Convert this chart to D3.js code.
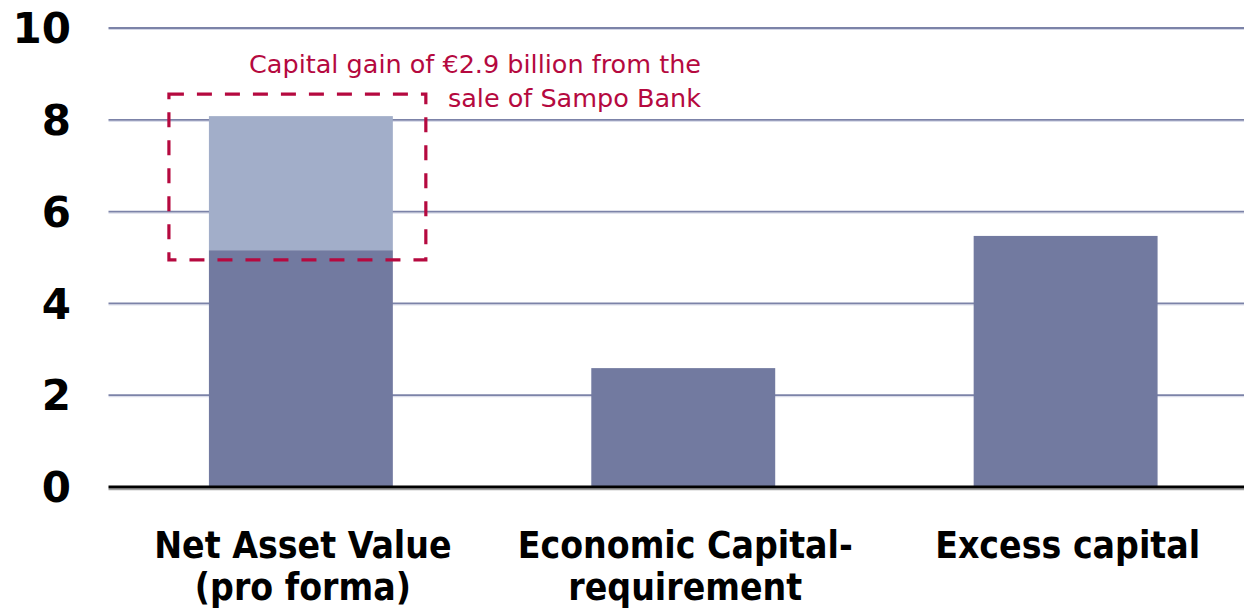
<!DOCTYPE html>
<html>
<head>
<meta charset="utf-8">
<script src="https://cdn.jsdelivr.net/npm/d3@7"></script>
<style>
  html, body { margin: 0; padding: 0; background: #fff; }
  svg { display: block; }
</style>
</head>
<body>
<svg id="chart" width="1244" height="611"></svg>
<script>
// data
const categories = ['Net Asset Value (pro forma)', 'Economic Capital-requirement', 'Excess capital']
const categoryLines = [['Net Asset Value', '(pro forma)'], ['Economic Capital-', 'requirement'], ['Excess capital']]
const baseValues = [5.16, 2.59, 5.47]   // dark part
const gainValues = [2.92, 0, 0]         // capital gain from Sampo Bank sale (light part)
const yTicks = [0, 2, 4, 6, 8, 10]
const noteLines = ['Capital gain of €2.9 billion from the', 'sale of Sampo Bank']
const noteBox = [4.95, 8.56]            // y range of the dashed box, in chart units

const svg = d3.select('#chart')
const W = 1244, H = 611
const plotLeft = 109.5, plotTop = 28, plotBottom = 487

let y = d3.scaleLinear().domain([0, 10]).range([plotBottom, plotTop])
let x = d3.scaleBand().domain(categories)
    .range([plotLeft, plotLeft + 382.5 * 3])
    .paddingInner(0.519)
    .paddingOuter(0.26)

const darkColor = '#727aa0',
    lightColor = '#a2aec9',
    gridColor = '#7c83a8',
    noteColor = '#b5093f'

// gridlines (with light shadow line underneath)
yTicks.filter(d => d > 0).forEach(function (t) {
    svg.append('line')
        .attr('x1', plotLeft - 1).attr('x2', W)
        .attr('y1', y(t) + 1.5).attr('y2', y(t) + 1.5)
        .attr('stroke', '#d3d6e6').attr('stroke-width', 1)
    svg.append('line')
        .attr('x1', plotLeft - 1).attr('x2', W)
        .attr('y1', y(t)).attr('y2', y(t))
        .attr('stroke', gridColor).attr('stroke-width', 1.8)
})

// bars
svg.selectAll('.base').data(categories).enter().append('rect')
    .attr('class', 'base')
    .attr('x', d => x(d))
    .attr('width', x.bandwidth())
    .attr('y', (d, i) => y(baseValues[i]))
    .attr('height', (d, i) => y(0) - y(baseValues[i]))
    .attr('fill', darkColor)

svg.selectAll('.gain').data(categories.filter((d, i) => gainValues[i] > 0)).enter().append('rect')
    .attr('class', 'gain')
    .attr('x', d => x(d))
    .attr('width', x.bandwidth())
    .attr('y', d => { let i = categories.indexOf(d); return y(baseValues[i] + gainValues[i]) })
    .attr('height', d => { let i = categories.indexOf(d); return y(baseValues[i]) - y(baseValues[i] + gainValues[i]) })
    .attr('fill', lightColor)

// zero axis line
svg.append('line')
    .attr('x1', plotLeft - 1).attr('x2', W)
    .attr('y1', y(0) + 2.5).attr('y2', y(0) + 2.5)
    .attr('stroke', '#a0a0a0').attr('stroke-width', 1.5)
svg.append('line')
    .attr('x1', plotLeft - 1).attr('x2', W)
    .attr('y1', y(0)).attr('y2', y(0))
    .attr('stroke', '#000').attr('stroke-width', 3.2)

// y tick labels
svg.selectAll('.ytick').data(yTicks).enter().append('text')
    .attr('class', 'ytick')
    .attr('x', 71)
    .attr('y', d => y(d))
    .attr('dy', '0.36em')
    .attr('text-anchor', 'end')
    .style('font-family', '"DejaVu Sans", sans-serif')
    .style('font-weight', 'bold')
    .style('font-size', '42px')
    .text(d => d)

// category labels
categories.forEach(function (c, i) {
    let t = svg.append('text')
        .attr('text-anchor', 'middle')
        .style('font-family', '"DejaVu Sans Condensed", "DejaVu Sans", sans-serif')
        .style('font-weight', 'bold')
        .style('font-size', '37px')
    categoryLines[i].forEach(function (line, j) {
        t.append('tspan')
            .attr('x', x(c) + x.bandwidth() / 2 + 2)
            .attr('y', 558 + j * 42)
            .text(line)
    })
})

// dashed annotation box around the capital gain
let c0 = categories[0]
svg.append('rect')
    .attr('x', x(c0) - 40)
    .attr('y', y(noteBox[1]))
    .attr('width', x.bandwidth() + 73)
    .attr('height', y(noteBox[0]) - y(noteBox[1]))
    .attr('fill', 'none')
    .attr('stroke', noteColor)
    .attr('stroke-width', 3.2)
    .attr('stroke-dasharray', '15,13')

let note = svg.append('text')
    .attr('text-anchor', 'end')
    .style('font-family', '"DejaVu Sans", sans-serif')
    .style('font-size', '25.5px')
    .attr('fill', noteColor)
noteLines.forEach(function (line, j) {
    note.append('tspan')
        .attr('x', 701)
        .attr('y', 73 + j * 34)
        .text(line)
})
</script>
</body>
</html>
